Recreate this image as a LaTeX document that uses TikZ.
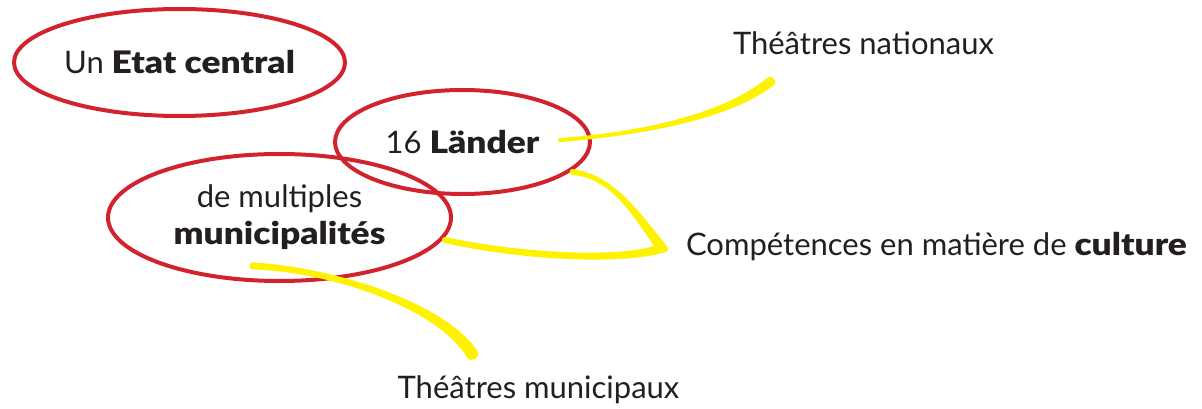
\documentclass[tikz,border=0pt]{standalone}
\usepackage{fontspec}
\setmainfont{Lato}[BoldFont={Lato Black}, BoldFeatures={FakeStretch=1.14}]
\usetikzlibrary{shapes.geometric}
\definecolor{redline}{HTML}{D2232D}
\definecolor{yel}{HTML}{FFF200}
\definecolor{ink}{HTML}{231F20}
\tikzset{
  oval/.style={ellipse, draw=redline, line width=4pt, inner sep=0pt, text=ink,
    font=\fontsize{31}{37}\selectfont, align=center},
  label/.style={text=ink, font=\fontsize{31}{37}\selectfont, inner sep=0pt, anchor=base},
  brush/.style={fill=yel, draw=none}
}
\begin{document}
\begin{tikzpicture}[x=1pt,y=-1pt]
\useasboundingbox (0,0) rectangle (1202,409);
% ovals
\node[oval, minimum width=331pt, minimum height=107pt] (etat) at (179.5,62.5) {Un \textbf{Etat central}};
\node[oval, minimum width=343pt, minimum height=127pt] (munic) at (279.5,217.5) {de multiples\\\textbf{municipalités}};
\node[oval, minimum width=255pt, minimum height=104pt] (lander) at (462.5,142) {16 \textbf{Länder}};
% labels
\node[label] (nat) at (863.5,55) {Théâtres nationaux};
\node[label] (comp) at (936.5,255) {Compétences en matière de \textbf{culture}};
\node[label] (mun) at (538.5,398) {Théâtres municipaux};
% brush connectors
\coordinate (a1) at (560,140);
\coordinate (a2) at (772,81);
\fill[brush] (560,138) .. controls (650,131.5) and (728,111) .. (767,78)
  .. controls (771,75) and (778,79) .. (774,85)
  .. controls (734,117) and (650,135) .. (560,142)
  .. controls (557,142) and (557,138) .. (560,138) -- cycle;
\coordinate (b1) at (572,172);
\coordinate (b2) at (445,240);
\fill[brush] (572,169) .. controls (612,174) and (636,208) .. (666,245)
  .. controls (670,250) and (668,252) .. (662,253)
  .. controls (620,265) and (520,260) .. (445,243)
  .. controls (441,242) and (441,237) .. (445,237)
  .. controls (520,253) and (615,258) .. (654,246)
  .. controls (630,211) and (610,178) .. (572,175)
  .. controls (569,175) and (569,169) .. (572,169) -- cycle;
\coordinate (c1) at (253,266);
\coordinate (c2) at (473,357);
\fill[brush] (253,262.5) .. controls (332,267) and (446,302) .. (478,352)
  .. controls (481,357) and (472,362) .. (468,359)
  .. controls (438,307) and (328,271.5) .. (253,269.5)
  .. controls (248,269.5) and (248,262.5) .. (253,262.5) -- cycle;
\end{tikzpicture}
\end{document}
